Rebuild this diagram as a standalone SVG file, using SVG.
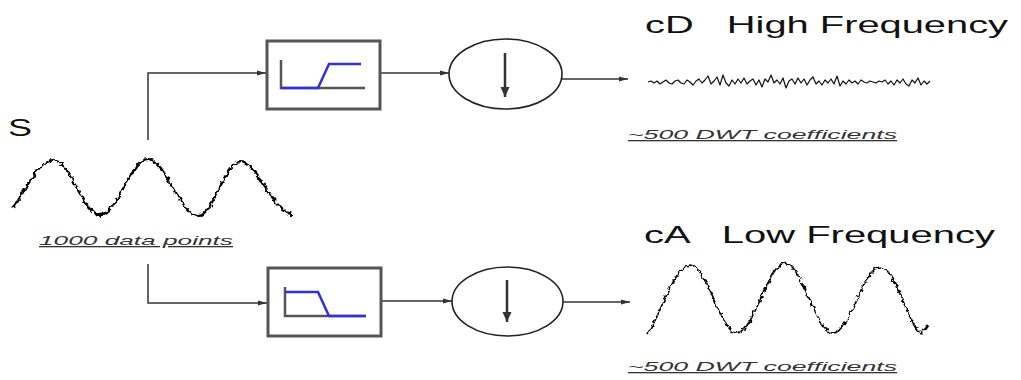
<svg xmlns="http://www.w3.org/2000/svg" width="1021" height="380" viewBox="0 0 1021 380">
<style>
.title{font-family:"Liberation Sans",Arial,sans-serif;font-size:24px;fill:#111;white-space:pre}
.lbl{font-family:"Liberation Sans",Arial,sans-serif;font-size:13px;font-style:italic;fill:#333;text-decoration:underline}
.box{fill:#fff;stroke:#555;stroke-width:3}
.axis{fill:none;stroke:#555;stroke-width:2.5}
.blue{fill:none;stroke:#3030e0;stroke-width:2.5}
.ell{fill:#fff;stroke:#222;stroke-width:1.6}
.dn{stroke:#333;stroke-width:2.5;marker-end:url(#dh)}
.conn{fill:none;stroke:#333;stroke-width:1.5;marker-end:url(#ah)}
.sig{fill:none;stroke:#000;stroke-width:2.2;stroke-linejoin:round}
.sigA{fill:none;stroke:#000;stroke-width:1.7;stroke-linejoin:round}
.hf{fill:none;stroke:#111;stroke-width:1.2;stroke-linejoin:round}
</style>
<defs>
<marker id="ah" markerUnits="userSpaceOnUse" markerWidth="10" markerHeight="8" refX="9" refY="4" orient="auto"><path d="M0,1.5 L9,4 L0,6.5 Z" fill="#333"/></marker>
<marker id="dh" markerUnits="userSpaceOnUse" markerWidth="12" markerHeight="10" refX="10" refY="5" orient="auto"><path d="M0,0.5 L10,5 L0,9.5 Z" fill="#333"/></marker>
<filter id="noise" x="-5%" y="-20%" width="110%" height="140%">
<feTurbulence type="fractalNoise" baseFrequency="0.2" numOctaves="2" seed="7" result="t"/>
<feDisplacementMap in="SourceGraphic" in2="t" scale="6" xChannelSelector="R" yChannelSelector="G"/>
</filter>
</defs>
<g id="connectors">
<path class="conn" d="M148,140 V73 H266"/>
<path class="conn" d="M148,264 V303 H267"/>
<path class="conn" d="M380,73 H449"/>
<path class="conn" d="M381,301 H452"/>
<path class="conn" d="M562,79 H628"/>
<path class="conn" d="M563,302 H630"/>
</g>
<g id="signal-S">
<text class="title" x="8" y="136" textLength="24" lengthAdjust="spacingAndGlyphs">S</text>
<path class="sig" filter="url(#noise)" d="M12,208 C24,196 37,160 53,160 C70,160 83,215 100,215 C117,215 131,159 148,159 C165,159 181,216 198,216 C213,216 225,162 240,162 C257,162 275,214 292,214"/>
<text class="lbl" x="39" y="245" textLength="194" lengthAdjust="spacingAndGlyphs">1000 data points</text>
</g>
<g id="highpass">
<rect class="box" x="267" y="41" width="113" height="68"/>
<path class="axis" d="M281,60 V88 H365"/>
<path class="blue" d="M281,88 H318 L329,64 H361"/>
</g>
<g id="lowpass">
<rect class="box" x="268" y="268" width="113" height="68"/>
<path class="axis" d="M285,287 V316 H366"/>
<path class="blue" d="M285,292 H318 L329,316 H366"/>
</g>
<g id="down-top">
<ellipse class="ell" cx="505.5" cy="74" rx="56.5" ry="35"/>
<line class="dn" x1="505" y1="53" x2="505" y2="97"/>
</g>
<g id="down-bottom">
<ellipse class="ell" cx="507.5" cy="301.5" rx="55.5" ry="34.5"/>
<line class="dn" x1="507" y1="280" x2="507" y2="322"/>
</g>
<g id="cD">
<text class="title" x="645" y="33" textLength="363" lengthAdjust="spacingAndGlyphs" xml:space="preserve">cD   High Frequency</text>
<polyline class="hf" points="648,82 651,81 654,83 657,81 660,84 663,82 666,80 669,83 672,84 675,81 678,80 681,83 684,84 687,80 690,82 693,85 696,81 699,79 702,83 705,80 708,76 711,84 714,81 717,77 720,85 723,75 726,83 729,86 732,80 735,84 738,79 741,83 744,78 747,84 750,81 753,79 756,85 759,80 762,87 765,79 768,82 771,75 774,83 777,80 780,84 783,78 786,88 789,81 792,79 795,84 798,78 801,83 804,79 807,85 810,80 813,77 816,84 819,81 822,85 825,80 828,83 831,79 834,84 837,76 840,86 843,81 846,84 849,80 852,83 855,81 858,84 861,80 864,82 867,83 870,81 873,82 876,83 879,81 882,82 885,80 888,84 891,81 894,85 897,80 900,83 903,79 906,84 909,86 912,80 915,83 918,78 921,85 924,81 927,84 930,81"/>
<text class="lbl" x="628" y="139" textLength="269" lengthAdjust="spacingAndGlyphs">~500 DWT coefficients</text>
</g>
<g id="cA">
<text class="title" x="644" y="243" textLength="351" lengthAdjust="spacingAndGlyphs" xml:space="preserve">cA   Low Frequency</text>
<path class="sigA" filter="url(#noise)" d="M648,334 C660,315 675,265 690,265 C707,265 720,333 737,333 C754,333 768,263 785,263 C802,263 816,333 833,333 C850,333 863,267 880,267 C897,267 908,330 922,333 L928,325"/>
<text class="lbl" x="628" y="371" textLength="269" lengthAdjust="spacingAndGlyphs">~500 DWT coefficients</text>
</g>
</svg>
